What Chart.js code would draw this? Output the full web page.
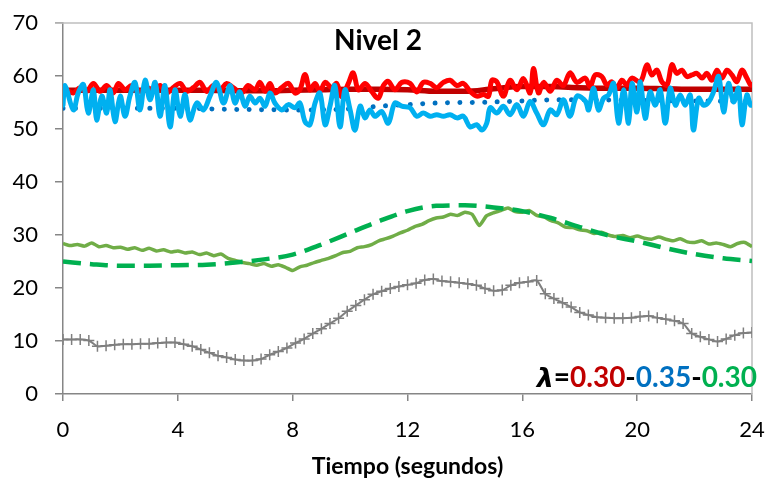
<!DOCTYPE html>
<html>
<head>
<meta charset="utf-8">
<script src="https://cdn.jsdelivr.net/npm/chart.js@4.4.1/dist/chart.umd.min.js"></script>
<style>
  html, body { margin: 0; padding: 0; background: #ffffff; }
  #wrap { width: 766px; height: 483px; position: relative; }
</style>
</head>
<body>
<div id="wrap"><canvas id="chart" width="766" height="483"></canvas></div>
<script>
// Axis ticks
const xTicks = [0, 4, 8, 12, 16, 20, 24];
const yTicks = [0, 10, 20, 30, 40, 50, 60, 70];

// Measured level, bright red (seconds / value)
const redT = [0,0.07,0.36,0.59,0.82,1.06,1.29,1.52,1.75,1.93,2.16,2.39,2.68,2.91,3.15,3.38,3.61,3.84,4.08,4.31,4.54,4.77,5.00,5.24,5.47,5.70,5.93,6.22,6.45,6.69,6.86,7.04,7.21,7.38,7.62,7.85,8.08,8.25,8.43,8.60,8.78,8.95,9.13,9.36,9.53,9.71,9.94,10.11,10.29,10.52,10.75,10.98,11.16,11.33,11.56,11.80,12.09,12.32,12.55,12.79,13.02,13.25,13.48,13.72,13.95,14.18,14.41,14.65,14.82,14.94,15.11,15.34,15.57,15.81,16.04,16.27,16.39,16.56,16.74,16.97,17.20,17.43,17.66,17.90,18.19,18.36,18.54,18.77,18.94,19.12,19.29,19.47,19.64,19.82,20.11,20.34,20.51,20.69,20.86,21.04,21.21,21.38,21.56,21.73,21.91,22.08,22.26,22.43,22.60,22.78,22.95,23.13,23.30,23.47,23.65,23.82,23.95,24.0];
const redV = [57.0,57.4,56.8,57.8,57.1,58.6,57.1,58.2,56.8,58.6,57.4,58.2,57.1,57.8,57.4,58.2,56.8,57.8,58.6,57.1,57.8,58.8,57.1,58.2,57.4,58.6,57.8,56.8,58.2,57.4,58.8,57.1,58.6,56.8,57.8,58.6,56.8,57.4,60.3,57.4,58.6,57.1,58.8,57.8,58.6,56.1,58.6,60.6,57.4,58.6,57.1,55.8,58.2,59.0,57.4,58.8,58.6,57.0,58.8,58.6,57.8,58.8,59.2,58.2,58.6,57.1,56.2,56.5,56.2,59.2,58.9,56.2,59.2,57.4,59.5,56.8,61.4,56.8,58.8,57.1,59.2,58.2,60.6,58.8,59.6,58.0,60.2,59.9,58.3,58.9,57.7,59.2,58.3,59.6,58.9,62.1,60.2,61.1,58.9,58.3,62.1,60.5,61.1,59.9,60.2,60.5,59.6,60.5,59.2,61.1,59.6,61.1,60.2,58.9,61.1,59.6,58.3,58.3];

// Model level, dark red
const darkRedT = [0,1,2,3,4,5,6,7,8,9,10,11,12,13,14,15,16,17,18,19,20,21,22,23,24];
const darkRedV = [57.3,57.3,57.3,57.3,57.3,57.3,57.2,57.2,57.3,57.4,57.5,57.5,57.4,57.1,57.1,57.6,58.0,58.0,57.8,57.7,57.7,57.6,57.5,57.5,57.5];

// Measured level, light blue
const blueT = [0,0.07,0.36,0.53,0.71,0.88,1.06,1.17,1.35,1.52,1.64,1.81,1.99,2.16,2.33,2.51,2.68,2.86,3.03,3.21,3.38,3.55,3.73,3.90,4.08,4.25,4.42,4.66,4.89,5.12,5.35,5.59,5.82,5.99,6.16,6.34,6.51,6.69,6.86,7.04,7.21,7.38,7.62,7.85,8.08,8.25,8.43,8.60,8.78,8.95,9.13,9.30,9.47,9.65,9.82,10.00,10.17,10.35,10.52,10.69,10.87,11.10,11.33,11.56,11.80,12.09,12.32,12.55,12.79,13.02,13.25,13.48,13.72,13.95,14.18,14.41,14.59,14.76,14.88,15.11,15.34,15.57,15.81,16.04,16.27,16.50,16.74,16.97,17.20,17.43,17.66,17.90,18.19,18.31,18.48,18.65,18.83,19.00,19.18,19.35,19.53,19.70,19.82,19.99,20.11,20.28,20.45,20.63,20.80,20.98,21.15,21.33,21.50,21.67,21.85,21.96,22.14,22.31,22.49,22.66,22.84,23.01,23.18,23.36,23.53,23.65,23.82,23.95,24.0];
const blueV = [54.5,58.2,53.6,56.8,58.4,53.0,57.4,51.7,56.2,53.0,57.4,51.4,56.2,52.4,56.2,58.8,53.6,59.2,55.5,58.8,52.4,58.2,50.4,57.4,52.4,56.5,51.7,54.9,53.6,56.2,58.8,54.9,58.2,54.9,57.0,54.3,56.2,54.9,55.8,54.3,56.8,54.9,53.6,54.6,54.0,54.9,51.4,50.8,54.9,56.8,50.8,54.3,58.2,50.4,57.4,53.6,49.8,54.3,52.1,53.6,52.4,53.3,51.1,54.9,54.3,54.0,52.4,53.0,52.4,52.7,52.4,52.7,52.1,52.4,50.4,50.8,49.8,51.1,54.0,53.0,54.3,52.7,54.6,52.4,55.2,53.0,50.8,53.6,52.7,55.5,52.4,56.2,55.3,53.6,57.7,53.6,55.8,56.4,58.6,51.1,57.4,51.1,58.6,53.2,58.9,52.0,57.0,54.5,57.4,51.1,57.7,54.5,56.4,54.5,56.4,49.8,55.8,54.5,55.1,57.0,59.9,53.2,58.6,55.1,57.7,50.8,56.4,54.5,54.5];

// Model level, dark blue (dotted)
const darkBlueT = [0,2,4,6,8,10,11,12,13,14,15,16,17,18,20,22,24];
const darkBlueV = [53.9,53.9,53.9,53.7,53.6,53.8,54.3,54.6,54.9,55.0,55.1,55.3,55.5,55.5,55.4,55.3,55.2];

// Measured level, light green
const greenT = [0,0.25,0.5,0.75,1,1.25,1.5,1.75,2,2.25,2.5,2.75,3,3.25,3.5,3.75,4,4.25,4.5,4.75,5,5.25,5.5,5.75,6,6.25,6.5,6.75,7,7.25,7.5,7.75,8,8.25,8.5,8.75,9,9.25,9.5,9.75,10,10.25,10.5,10.75,11,11.25,11.5,11.75,12,12.25,12.5,12.75,13,13.25,13.5,13.75,14,14.25,14.5,14.75,15,15.25,15.5,15.75,16,16.25,16.5,16.75,17,17.25,17.5,17.75,18,18.25,18.5,18.75,19,19.25,19.5,19.75,20,20.25,20.5,20.75,21,21.25,21.5,21.75,22,22.25,22.5,22.75,23,23.25,23.5,23.75,24];
const greenV = [28.4,28.0,28.2,27.9,28.5,27.8,28.0,27.6,27.7,27.3,27.6,27.1,27.5,27.0,27.2,26.8,27.0,26.6,26.8,26.3,26.6,26.1,26.4,25.6,25.2,24.8,24.6,24.3,24.6,24.1,24.4,23.9,23.3,24.0,24.3,24.8,25.2,25.6,26.1,26.7,26.9,27.6,27.8,28.2,28.9,29.3,29.8,30.4,30.9,31.6,32.0,32.7,33.2,33.4,33.9,33.7,34.3,33.9,31.8,33.6,34.2,34.6,35.1,34.4,34.3,34.6,33.7,33.4,32.7,32.3,31.5,31.4,31.0,30.8,30.3,30.5,30.0,29.7,29.9,29.5,29.8,29.4,29.2,29.6,29.2,28.9,29.3,28.7,28.6,28.9,28.3,28.5,28.2,27.8,28.4,28.6,27.8];

// Model level, green (dashed)
const greenModelT = [0,1,2,3,4,5,6,7,8,9,10,11,12,13,14,15,16,17,18,19,20,21,22,23,24];
const greenModelV = [25.0,24.5,24.2,24.2,24.3,24.4,24.8,25.4,26.3,28.2,30.4,32.6,34.5,35.5,35.6,35.2,34.5,33.2,31.5,29.9,28.8,27.5,26.4,25.6,25.1];

// Gray series with cross markers
const grayT = [0,0.3,0.6,0.9,1.2,1.5,1.8,2.1,2.4,2.7,3.0,3.3,3.6,3.9,4.2,4.5,4.8,5.1,5.4,5.7,6.0,6.3,6.6,6.9,7.2,7.5,7.8,8.1,8.4,8.7,9.0,9.3,9.6,9.9,10.2,10.5,10.8,11.1,11.4,11.7,12.0,12.3,12.6,12.9,13.2,13.5,13.8,14.1,14.4,14.7,15.0,15.3,15.6,15.9,16.2,16.5,16.8,17.1,17.4,17.7,18.0,18.3,18.6,18.9,19.2,19.5,19.8,20.1,20.4,20.7,21.0,21.3,21.6,21.9,22.2,22.5,22.8,23.1,23.4,23.7,24.0];
const grayV = [10.3,10.3,10.3,10.1,9.0,9.1,9.3,9.4,9.4,9.5,9.5,9.6,9.7,9.7,9.4,9.0,8.4,7.8,7.2,6.9,6.5,6.3,6.3,6.6,7.4,8.0,8.7,9.6,10.4,11.4,12.3,13.3,14.3,15.6,16.7,17.8,18.8,19.4,19.9,20.3,20.6,20.9,21.5,21.7,21.3,21.2,21.0,20.8,20.5,19.9,19.5,19.6,20.5,21.0,21.2,21.4,18.9,18.0,17.2,16.4,15.4,14.9,14.5,14.4,14.3,14.3,14.4,14.6,14.7,14.4,14.1,13.8,13.3,11.4,10.8,10.3,9.9,10.4,11.1,11.5,11.6];

// Annotation text pieces
const titleText = 'Nivel 2';
const xTitle = 'Tiempo (segundos)';
const lambdaParts = [
  { text: 'λ', color: '#000000', italic: true },
  { text: '=', color: '#000000' },
  { text: '0.30', color: '#C00000' },
  { text: '-', color: '#000000' },
  { text: '0.35', color: '#0070C0' },
  { text: '-', color: '#000000' },
  { text: '0.30', color: '#00B050' }
];

const FONT = 'Lato, "Open Sans", "DejaVu Sans", sans-serif';
const GREEK_FONT = '"DejaVu Sans", "Noto Sans", sans-serif';

function pts(ts, vs) { return ts.map((t, i) => ({ x: t, y: vs[i] })); }

// Light plot-area frame (top and right sides) plus in-chart texts
const decorations = {
  id: 'decorations',
  beforeDatasetsDraw(chart) {
    const { ctx, chartArea: a } = chart;
    ctx.save();
    ctx.strokeStyle = '#BFBFBF';
    ctx.lineWidth = 1.5;
    ctx.beginPath();
    ctx.moveTo(a.left - 8, a.top);
    ctx.lineTo(a.right, a.top);
    ctx.lineTo(a.right, a.bottom);
    ctx.stroke();
    ctx.restore();
  },
  afterDraw(chart) {
    const { ctx } = chart;
    ctx.save();
    ctx.fillStyle = '#000000';
    ctx.font = 'bold 28px ' + FONT;
    ctx.textAlign = 'center';
    ctx.textBaseline = 'middle';
    ctx.fillText(titleText, 378, 41);

    // λ label, right-aligned near the lower right corner
    ctx.textAlign = 'left';
    ctx.textBaseline = 'alphabetic';
    const fontFor = p => (p.italic ? 'italic bold 27px ' + GREEK_FONT : 'bold 28px ' + FONT);
    let total = 0;
    lambdaParts.forEach(p => { ctx.font = fontFor(p); total += ctx.measureText(p.text).width; });
    let x = 757 - total;
    lambdaParts.forEach(p => {
      ctx.font = fontFor(p);
      ctx.fillStyle = p.color;
      ctx.fillText(p.text, x, 387);
      x += ctx.measureText(p.text).width;
    });
    ctx.restore();
  }
};

new Chart(document.getElementById('chart'), {
  type: 'line',
  data: {
    datasets: [
      { data: pts(grayT, grayV), order: 0, borderColor: '#7F7F7F', borderWidth: 2,
        pointStyle: 'cross', pointRadius: 5.5, pointBorderColor: '#7F7F7F', pointBorderWidth: 1.5,
        tension: 0.3 },
      { data: pts(greenModelT, greenModelV), order: 1, borderColor: '#00B050', borderWidth: 4.5,
        borderDash: [18, 9], pointRadius: 0, cubicInterpolationMode: 'monotone' },
      { data: pts(greenT, greenV), order: 2, borderColor: '#70AD47', borderWidth: 3.5,
        pointRadius: 0, tension: 0.2, borderJoinStyle: 'round' },
      { data: pts(blueT, blueV), order: 3, borderColor: '#00B0F0', borderWidth: 5,
        pointRadius: 0, tension: 0.35, borderJoinStyle: 'round', borderCapStyle: 'round' },
      { data: pts(darkBlueT, darkBlueV), order: 4, borderColor: '#0070C0', borderWidth: 5,
        borderDash: [0.01, 12.4], borderCapStyle: 'round', pointRadius: 0, cubicInterpolationMode: 'monotone' },
      { data: pts(redT, redV), order: 5, borderColor: '#FF0000', borderWidth: 5,
        pointRadius: 0, tension: 0.35, borderJoinStyle: 'round', borderCapStyle: 'round' },
      { data: pts(darkRedT, darkRedV), order: 6, borderColor: '#C00000', borderWidth: 5.5,
        pointRadius: 0, cubicInterpolationMode: 'monotone' }
    ]
  },
  options: {
    responsive: false,
    animation: false,
    events: [],
    layout: { padding: { top: 23, right: 14, left: 0, bottom: 0 } },
    plugins: { legend: { display: false }, tooltip: { enabled: false }, title: { display: false } },
    scales: {
      x: {
        type: 'linear', min: 0, max: 24,
        afterBuildTicks: s => { s.ticks = xTicks.map(v => ({ value: v })); },
        afterFit: s => { s.height = 89; s.paddingLeft = 0; s.paddingRight = 0; },
        border: { display: true, color: '#868686', width: 1.5 },
        grid: { display: true, drawOnChartArea: false, drawTicks: true, tickLength: 7, color: '#868686', lineWidth: 1.5 },
        ticks: { color: '#000000', font: { family: FONT, size: 22 }, padding: 16, maxRotation: 0 },
        title: { display: true, text: xTitle, color: '#000000', font: { family: FONT, size: 23, weight: 'bold' }, padding: { top: 4, bottom: 3 } }
      },
      y: {
        type: 'linear', min: 0, max: 70,
        afterBuildTicks: s => { s.ticks = yTicks.map(v => ({ value: v })); },
        afterFit: s => { s.width = 63; s.paddingTop = 0; s.paddingBottom = 0; },
        border: { display: true, color: '#868686', width: 1.5 },
        grid: { display: true, drawOnChartArea: false, drawTicks: true, tickLength: 8, color: '#868686', lineWidth: 1.5 },
        ticks: { color: '#000000', font: { family: FONT, size: 22 }, padding: 17 }
      }
    }
  },
  plugins: [decorations]
});
</script>
</body>
</html>
